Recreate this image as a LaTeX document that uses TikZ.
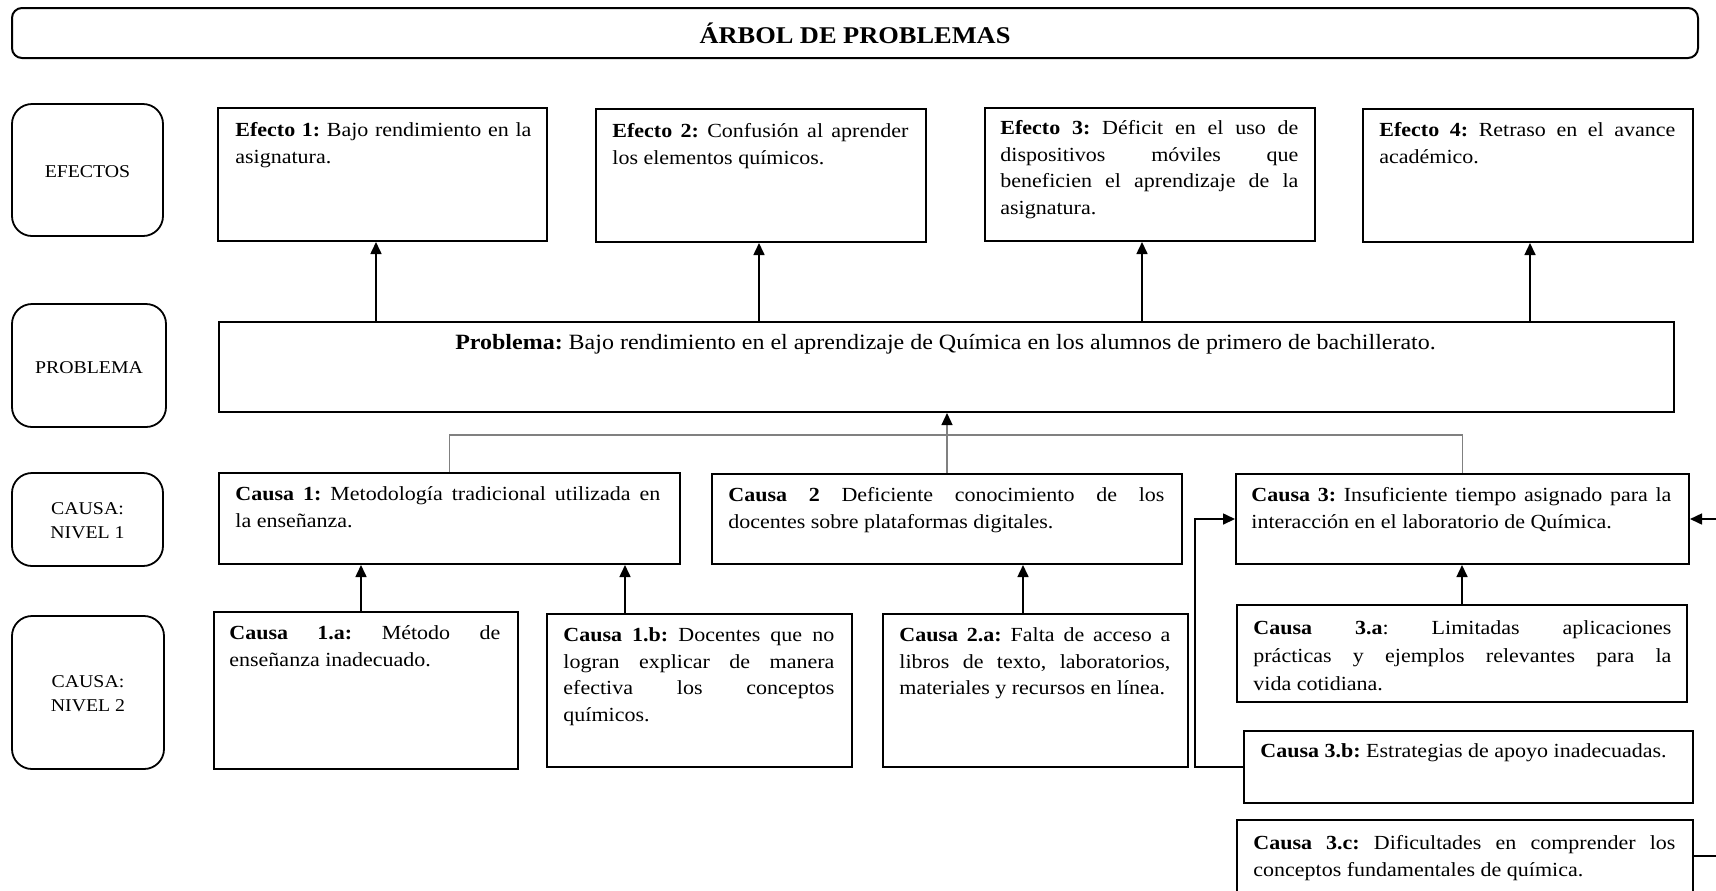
\documentclass[tikz,border=0pt]{standalone}
\usepackage{fontspec}
\setmainfont{Liberation Serif}[FakeStretch=1.1]
\usetikzlibrary{arrows.meta,fit,calc}
\definecolor{linkgray}{RGB}{128,128,128}
\newcommand\bodyfont{\fontsize{10pt}{13.35pt}\selectfont\frenchspacing\hyphenpenalty=10000\exhyphenpenalty=10000}
\newcommand\loosefont{\fontsize{10pt}{14pt}\selectfont\frenchspacing\hyphenpenalty=10000\exhyphenpenalty=10000}
\newcommand\mainfont{\fontsize{10.9pt}{14pt}\selectfont\frenchspacing}
\newcommand\tagfont{\fontsize{9pt}{12pt}\selectfont}
\newcommand\headfont{\fontsize{12pt}{14pt}\selectfont\bfseries}

\begin{document}
\begin{tikzpicture}[x=0.5pt,y=-0.5pt,
  boxframe/.style={draw, line width=1pt, inner sep=0pt},
  tagbox/.style={draw, line width=0.9pt, rounded corners=10pt, inner sep=0pt},
  bodytext/.style={anchor=north west, inner sep=0pt, align=justify, text width=#1, font=\bodyfont},
  tagtext/.style={align=center, inner sep=0pt, font=\tagfont},
  arr/.style={line width=0.8pt, -{Triangle[length=6pt,width=5.5pt]}},
  linkline/.style={draw=linkgray, line width=0.6pt},
]
\path[use as bounding box] (0,0) rectangle (1716,890);
\clip (0,0) rectangle (1716,890);
\fill[white] (0,0) rectangle (1716,890);

% heading
\node[boxframe, rounded corners=5pt, fit={(12,8) (1698,58)}] (title) {};
\node[font=\headfont, anchor=base, inner sep=0pt] (titletext) at ([yshift=-5pt]title.center) {ÁRBOL DE PROBLEMAS};

% row tags
\node[tagbox, fit={(12,104) (163,236)}] (tEf) {};
\node[tagtext] (tEfx) at ([yshift=-1pt]tEf.center) {EFECTOS};
\node[tagbox, fit={(12,304) (166,427)}] (tPr) {};
\node[tagtext] (tPrx) at ([yshift=-1pt]tPr.center) {PROBLEMA};
\node[tagbox, fit={(12,473) (163,566)}] (tCa) {};
\node[tagtext] (tCax) at ([yshift=-0.5pt]tCa.center) {CAUSA:\\NIVEL 1};
\node[tagbox, fit={(12,616) (164,769)}] (tCb) {};
\node[tagtext] (tCbx) at ([yshift=-0.5pt]tCb.center) {CAUSA:\\NIVEL 2};

% effects
\node[boxframe, fit={(218,108) (547,241)}] (e1) {};
\node[bodytext=148pt] (e1t) at ([shift={(18,10.3)}]e1.north west)
  {\strut\textbf{Efecto 1:} Bajo rendimiento en la\linebreak asignatura.};
\node[boxframe, fit={(596,109) (926,242)}] (e2) {};
\node[bodytext=148pt] (e2t) at ([shift={(17,10.3)}]e2.north west)
  {\strut\textbf{Efecto 2:} Confusión al aprender\linebreak los elementos químicos.};
\node[boxframe, fit={(985,108) (1315,241)}] (e3) {};
\node[bodytext=149pt] (e3t) at ([shift={(16,8.3)}]e3.north west)
  {\strut\textbf{Efecto 3:} Déficit en el uso de\linebreak dispositivos móviles que\linebreak beneficien el aprendizaje de la\linebreak asignatura.};
\node[boxframe, fit={(1363,109) (1693,242)}] (e4) {};
\node[bodytext=148pt] (e4t) at ([shift={(17,9.3)}]e4.north west)
  {\strut\textbf{Efecto 4:} Retraso en el avance\linebreak académico.};

% central problem
\node[boxframe, fit={(219,322) (1674,412)}] (p) {};
\node[font=\mainfont, inner sep=0pt, anchor=base] (pt) at ([xshift=-0.5pt,yshift=-14pt]p.north)
  {\textbf{Problema:} Bajo rendimiento en el aprendizaje de Química en los alumnos de primero de bachillerato.};

% causes, level 1
\node[boxframe, fit={(219,473) (680,564)}] (c1) {};
\node[bodytext=212.5pt] (c1t) at ([shift={(17,9.3)}]c1.north west)
  {\strut\textbf{Causa 1:} Metodología tradicional utilizada en\linebreak la enseñanza.};
\node[boxframe, fit={(712,474) (1182,564)}] (c2) {};
\node[bodytext=218pt] (c2t) at ([shift={(17,9.3)}]c2.north west)
  {\strut\textbf{Causa 2} Deficiente conocimiento de los\linebreak docentes sobre plataformas digitales.};
\node[boxframe, fit={(1236,474) (1689,564)}] (c3) {};
\node[bodytext=210pt] (c3t) at ([shift={(16,9.3)}]c3.north west)
  {\strut\textbf{Causa 3:} Insuficiente tiempo asignado para la\linebreak interacción en el laboratorio de Química.};

% causes, level 2
\node[boxframe, fit={(214,612) (518,769)}] (c1a) {};
\node[bodytext=135.5pt] (c1at) at ([shift={(16,9.3)}]c1a.north west)
  {\strut\textbf{Causa 1.a:} Método de\linebreak enseñanza inadecuado.};
\node[boxframe, fit={(547,614) (852,767)}] (c1b) {};
\node[bodytext=135.5pt] (c1bt) at ([shift={(17,9.3)}]c1b.north west)
  {\strut\textbf{Causa 1.b:} Docentes que no\linebreak logran explicar de manera\linebreak efectiva los conceptos\linebreak químicos.};
\node[boxframe, fit={(883,614) (1188,767)}] (c2a) {};
\node[bodytext=135.5pt] (c2at) at ([shift={(17,9.3)}]c2a.north west)
  {\strut\textbf{Causa 2.a:} Falta de acceso a\linebreak libros de texto, laboratorios,\linebreak materiales y recursos en línea.};
\node[boxframe, fit={(1237,605) (1687,702)}] (c3a) {};
\node[bodytext=209pt, font=\loosefont] (c3at) at ([shift={(17,10.5)}]c3a.north west)
  {\strut\textbf{Causa 3.a}: Limitadas aplicaciones\linebreak prácticas y ejemplos relevantes para la\linebreak vida cotidiana.};
\node[boxframe, fit={(1244,731) (1693,803)}] (c3b) {};
\node[bodytext=207.5pt] (c3bt) at ([shift={(17,8.3)}]c3b.north west)
  {\strut\textbf{Causa 3.b:} Estrategias de apoyo inadecuadas.};
\node[boxframe, fit={(1237,820) (1693,892)}] (c3c) {};
\node[bodytext=211pt] (c3ct) at ([shift={(17,11.3)}]c3c.north west)
  {\strut\textbf{Causa 3.c:} Dificultades en comprender los\linebreak conceptos fundamentales de química.};

% problem -> effects
\draw[arr] ([xshift=-3.25pt]e1.south |- p.north) -- ([xshift=-3.25pt]e1.south);
\draw[arr] ([xshift=-1pt]e2.south |- p.north) -- ([xshift=-1pt]e2.south);
\draw[arr] ([xshift=-4pt]e3.south |- p.north) -- ([xshift=-4pt]e3.south);
\draw[arr] ([xshift=1pt]e4.south |- p.north) -- ([xshift=1pt]e4.south);

% level 1 causes -> problem
\coordinate (bus) at (947,435);
\draw[linkline] (c1.north) |- (bus) -| (c3.north);
\draw[linkline, -{Triangle[length=6pt,width=5.5pt,color=black]}] (c2.north) -- (c2.north |- p.south);

% level 2 causes -> level 1 causes
\draw[arr] ([xshift=-2.5pt]c1a.north) -- ([xshift=-2.5pt]c1a.north |- c1.south);
\draw[arr] ([xshift=-37.25pt]c1b.north) -- ([xshift=-37.25pt]c1b.north |- c1.south);
\draw[arr] ([xshift=-6.25pt]c2a.north) -- ([xshift=-6.25pt]c2a.north |- c2.south);
\draw[arr] (c3a.north) -- (c3a.north |- c3.south);
\draw[arr] (c3b.west) -- ++(-48,0) |- (c3.west);
\draw[arr] (c3c.east) -- ++(40,0) |- (c3.east);
\end{tikzpicture}
\end{document}
